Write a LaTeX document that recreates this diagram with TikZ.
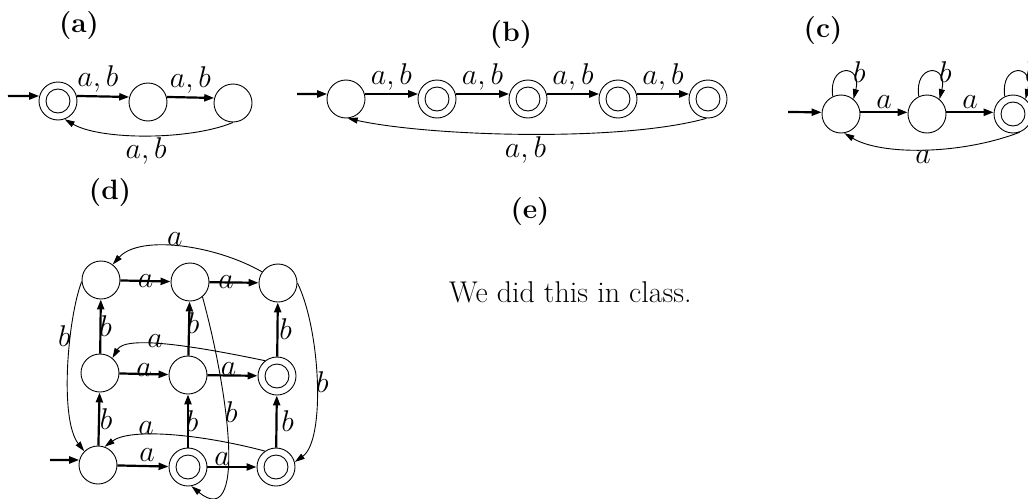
\RequirePackage{fix-cm}
\documentclass[tikz,border=0pt]{standalone}
\usetikzlibrary{arrows.meta}
\begin{document}
\begin{tikzpicture}[x=1pt,y=-1pt,
 st/.style={circle, draw, line width=0.9pt, minimum size=38pt, inner sep=0pt},
 acc/.style={st, path picture={\draw[line width=0.9pt] (path picture bounding box.center) circle[radius=12pt];}},
 tr/.style={line width=2.2pt, -{Triangle[length=10pt,width=7pt]}},
 cv/.style={line width=0.9pt, -{Triangle[length=10pt,width=6pt]}},
 lab/.style={inner sep=0pt, font=\fontsize{30}{36}\selectfont},
 ttl/.style={inner sep=0pt, font=\fontsize{28}{34}\selectfont\bfseries}]
\fill[white] (0,0) rectangle (1028,498);
\useasboundingbox (0,0) rectangle (1028,498);
% titles
\node[ttl] (ta) at (79,26) {(a)};
\node[ttl] (tb) at (511,35) {(b)};
\node[ttl] (tc) at (823,31) {(c)};
\node[ttl] (td) at (110,193) {(d)};
\node[ttl] (te) at (530,212) {(e)};
\node[lab, anchor=base west] (txt) at (449,302) {We did this in class.};
% (a)
\node[acc] (a1) at (58,101) {};
\node[st] (a2) at (148,102) {};
\node[st] (a3) at (233,103) {};
\coordinate (sa) at (8,96);
\draw[tr] (sa) -- (a1.165);
\draw[tr] (a1.15) -- node[lab,above=3pt,xshift=-5pt]{$a,b$} (a2.165);
\draw[tr] (a2.15) -- node[lab,above=3pt]{$a,b$} (a3.165);
\draw[cv] (a3.270) .. controls +(-43,18) and +(36,21) .. (a1.290) node[lab,midway,below=2pt]{$a,b$};
% (b)
\node[st] (b1) at (346,99) {};
\node[acc] (b2) at (437,99) {};
\node[acc] (b3) at (528,99) {};
\node[acc] (b4) at (618,99) {};
\node[acc] (b5) at (708,99) {};
\coordinate (sb) at (297,94);
\draw[tr] (sb) -- (b1.165);
\draw[tr] (b1.15) -- node[lab,above=3pt]{$a,b$} (b2.165);
\draw[tr] (b2.15) -- node[lab,above=3pt]{$a,b$} (b3.165);
\draw[tr] (b3.15) -- node[lab,above=3pt]{$a,b$} (b4.165);
\draw[tr] (b4.15) -- node[lab,above=3pt]{$a,b$} (b5.165);
\draw[cv] (b5.265) .. controls +(-86,24) and +(82,18) .. (b1.275) node[lab,midway,below=2pt]{$a,b$};
% (c)
\node[st] (c1) at (841,114) {};
\node[st] (c2) at (927,114) {};
\node[acc] (c3) at (1013,114) {};
\coordinate (sc) at (788,112);
\draw[tr] (sc) -- (c1.175);
\draw[tr] (c1.5) -- node[lab,above=3pt]{$a$} (c2.175);
\draw[tr] (c2.5) -- node[lab,above=3pt]{$a$} (c3.175);
\draw[cv] (c1.115) .. controls +(-5,-33) and +(9,-36) .. (c1.50) node[lab,pos=0.6,anchor=west,xshift=4pt,yshift=1pt]{$b$};
\draw[cv] (c2.115) .. controls +(-5,-33) and +(9,-36) .. (c2.50) node[lab,pos=0.6,anchor=west,xshift=4pt,yshift=1pt]{$b$};
\draw[cv] (c3.115) .. controls +(-5,-33) and +(9,-36) .. (c3.50) node[lab,pos=0.6,anchor=west,xshift=4pt,yshift=1pt]{$b$};
\draw[cv] (c3.290) .. controls +(-60,23) and +(36,22) .. (c1.280) node[lab,midway,below=1pt]{$a$};
% (d)
\node[st] (TL) at (101,280) {};
\node[st] (TM) at (190,282) {};
\node[st] (TR) at (278,283) {};
\node[st] (ML) at (100,373) {};
\node[st] (MM) at (188,375) {};
\node[acc] (MR) at (277,376) {};
\node[st] (BL) at (98,465) {};
\node[acc] (BM) at (188,467) {};
\node[acc] (BR) at (276,467) {};
\coordinate (sd) at (50,460);
\draw[tr] (sd) -- (BL.165);
\draw[tr] (TL) -- node[lab]{$a$} (TM);
\draw[tr] (TM) -- node[lab,xshift=-8pt]{$a$} (TR);
\draw[tr] (ML) -- node[lab,yshift=4pt]{$a$} (MM);
\draw[tr] (MM) -- node[lab,yshift=6pt,xshift=-4pt]{$a$} (MR);
\draw[tr] (BL) -- node[lab,yshift=11pt,xshift=4pt]{$a$} (BM);
\draw[tr] (BM) -- node[lab,yshift=8pt,xshift=-10pt]{$a$} (BR);
\draw[tr] (BL) -- node[lab,xshift=7pt]{$b$} (ML);
\draw[tr] (ML) -- node[lab,xshift=5pt]{$b$} (TL);
\draw[tr] (BM) -- node[lab,xshift=4pt]{$b$} (MM);
\draw[tr] (MM) -- node[lab,xshift=4pt,yshift=5pt]{$b$} (TM);
\draw[tr] (BR) -- node[lab,xshift=11pt]{$b$} (MR);
\draw[tr] (MR) -- node[lab,xshift=8pt]{$b$} (TR);
\draw[cv] (TR.145) .. controls +(-47,-27) and +(27,-30) .. (TL.53) node[lab,midway,above=1pt,xshift=-5pt]{$a$};
\draw[cv] (MR.128) .. controls +(-72,-15) and +(13,-23) .. (ML.50) node[lab,pos=0.6,xshift=4pt,yshift=4pt]{$a$};
\draw[cv] (BR.125) .. controls +(-64,-17) and +(26,-19) .. (BL.70) node[lab,pos=0.65,above=1pt]{$a$};
\draw[cv] (TL.185) .. controls +(-14,37) and +(-25,-32) .. (BL.135) node[lab,pos=0.34,xshift=-6pt]{$b$};
\draw[cv] (TR.0) .. controls +(23,47) and +(31,-22) .. (BR.15) node[lab,midway,xshift=6pt]{$b$};
\draw[cv] (TM.310) .. controls +(28,103) and +(54,44) .. (BM.280) node[lab,pos=0.37,xshift=6pt]{$b$};
\end{tikzpicture}
\end{document}
